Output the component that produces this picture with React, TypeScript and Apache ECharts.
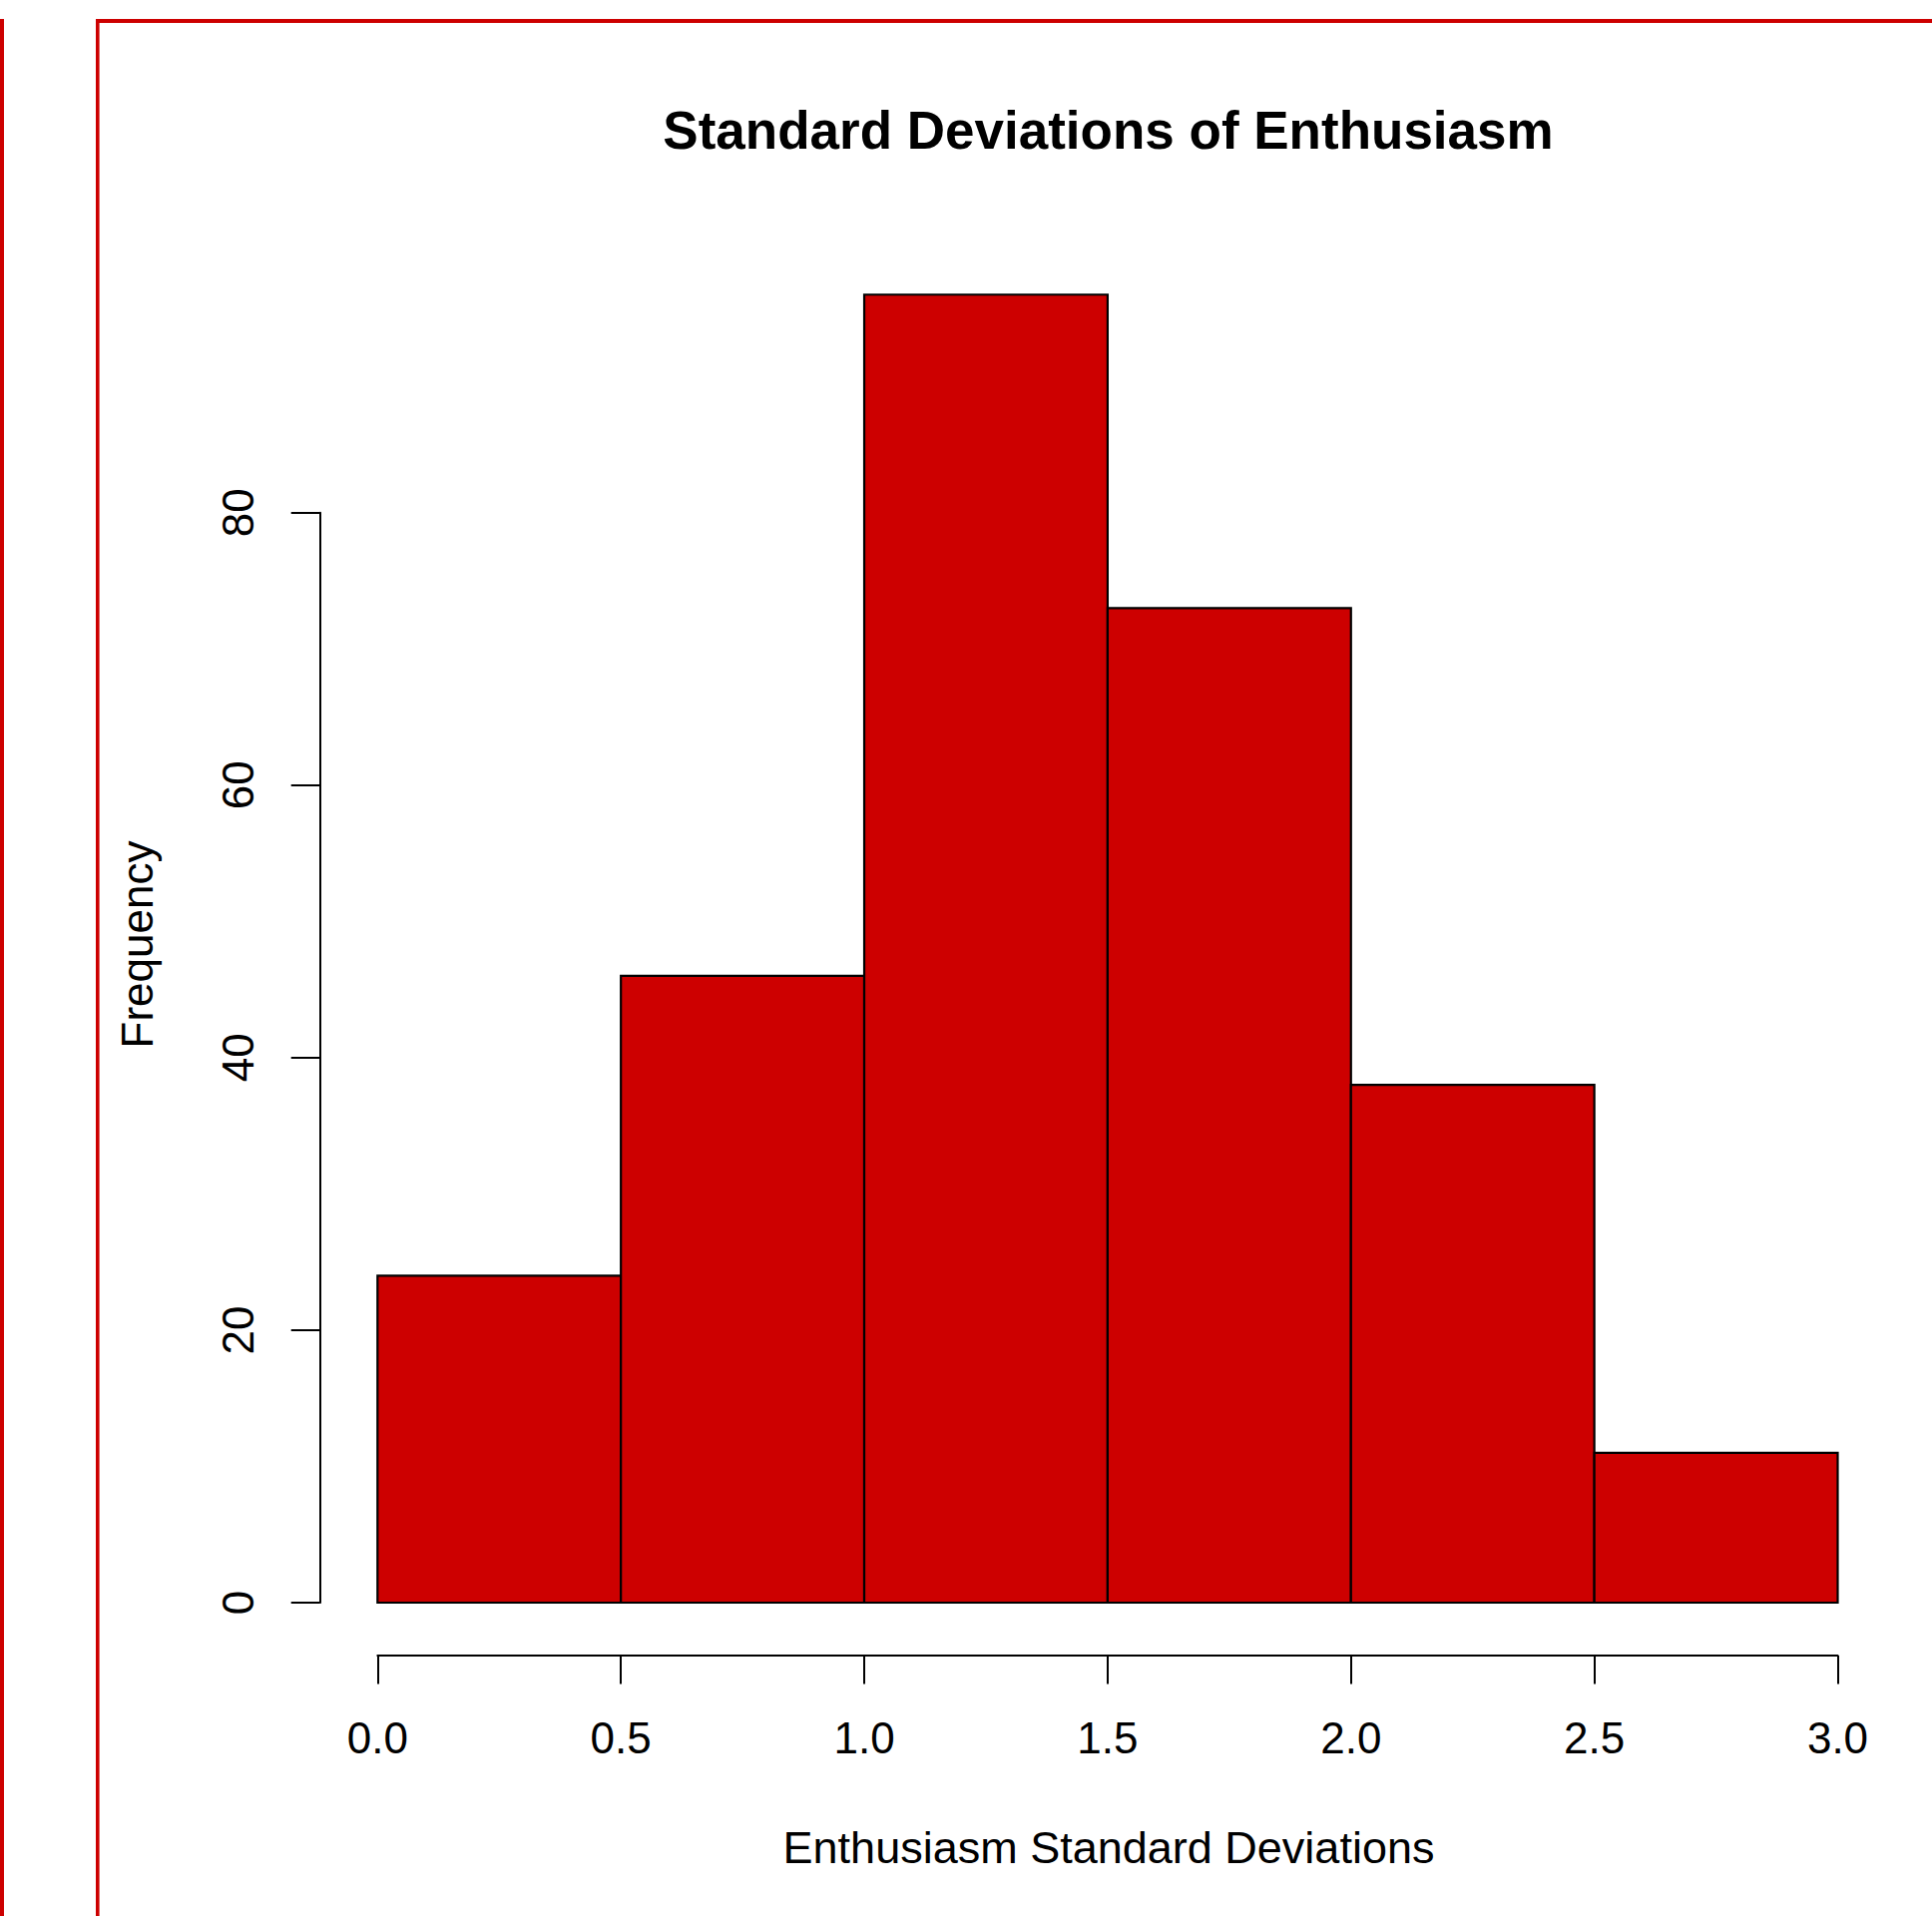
import React, { useEffect, useRef } from "react";
import * as echarts from "echarts";

const binStarts = [0, 0.5, 1.0, 1.5, 2.0, 2.5];
const binEnds = [0.5, 1.0, 1.5, 2.0, 2.5, 3.0];
const counts = [24, 46, 96, 73, 38, 11];
const yTicks = [0, 20, 40, 60, 80];
const xTicks = [0, 0.5, 1.0, 1.5, 2.0, 2.5, 3.0];

const titleText = "Standard Deviations of Enthusiasm";
const xLabel = "Enthusiasm Standard Deviations";
const yLabel = "Frequency";

const FONT = "'Liberation Sans', Arial, Helvetica, sans-serif";
const RED = "#CD0000";

export default function App() {
  const ref = useRef<HTMLDivElement>(null);
  useEffect(() => {
    if (!ref.current) return;
    const chart = echarts.init(ref.current, null, { renderer: "svg" });
    const data = binStarts.map((s, i) => [s, binEnds[i], counts[i]]);
    const option: any = {
      animation: false,
      backgroundColor: "#ffffff",
      grid: {
        left: 378.3,
        right: 94.5,
        top: 513.7,
        bottom: 314,
        containLabel: false,
        outerBoundsMode: "none",
      },
      xAxis: {
        type: "value",
        min: xTicks[0],
        max: xTicks[xTicks.length - 1],
        interval: 0.5,
        offset: 53,
        axisLine: { show: true, onZero: false, lineStyle: { color: "#000", width: 2 } },
        axisTick: { show: true, length: 28.5, lineStyle: { color: "#000", width: 2 } },
        axisLabel: {
          margin: 60,
          fontFamily: FONT,
          fontSize: 44,
          color: "#000",
          formatter: (v: number) => v.toFixed(1),
        },
        splitLine: { show: false },
      },
      yAxis: {
        type: "value",
        min: yTicks[0],
        max: yTicks[yTicks.length - 1],
        interval: 20,
        offset: 57.8,
        axisLine: { show: true, onZero: false, lineStyle: { color: "#000", width: 2 } },
        axisTick: { show: true, length: 28.8, lineStyle: { color: "#000", width: 2 } },
        axisLabel: {
          rotate: 90,
          margin: 60,
          fontFamily: FONT,
          fontSize: 44,
          color: "#000",
        },
        splitLine: { show: false },
      },
      series: [
        {
          type: "custom",
          clip: false,
          data,
          encode: { x: [0, 1], y: 2 },
          renderItem: (params: any, api: any) => {
            const x0 = api.value(0);
            const x1 = api.value(1);
            const c = api.value(2);
            const p0 = api.coord([x0, c]);
            const p1 = api.coord([x1, 0]);
            return {
              type: "rect",
              shape: { x: p0[0], y: p0[1], width: p1[0] - p0[0], height: p1[1] - p0[1] },
              style: { fill: RED, stroke: "#000", lineWidth: 2.2 },
            };
          },
        },
      ],
      graphic: [
        { type: "line", shape: { x1: 2, y1: 19, x2: 2, y2: 1920 }, style: { stroke: RED, lineWidth: 4 } },
        { type: "line", shape: { x1: 96, y1: 21, x2: 1936, y2: 21 }, style: { stroke: RED, lineWidth: 4 } },
        { type: "line", shape: { x1: 97.8, y1: 19, x2: 97.8, y2: 1920 }, style: { stroke: RED, lineWidth: 3.6 } },
        {
          type: "text",
          x: 1110.5,
          y: 130,
          style: {
            text: titleText,
            font: `bold 53px ${FONT}`,
            fill: "#000",
            textAlign: "center",
            textVerticalAlign: "middle",
          },
        },
        {
          type: "text",
          x: 1111,
          y: 1851.5,
          style: {
            text: xLabel,
            font: `45px ${FONT}`,
            fill: "#000",
            textAlign: "center",
            textVerticalAlign: "middle",
          },
        },
        {
          type: "text",
          x: 137.5,
          y: 946.5,
          rotation: Math.PI / 2,
          style: {
            text: yLabel,
            font: `44px ${FONT}`,
            fill: "#000",
            textAlign: "center",
            textVerticalAlign: "middle",
          },
        },
      ],
    };
    chart.setOption(option);
    return () => chart.dispose();
  }, []);
  return (
    <div
      ref={ref}
      style={{ position: "fixed", left: 0, top: 0, width: 1936, height: 1920, background: "#fff" }}
    />
  );
}
